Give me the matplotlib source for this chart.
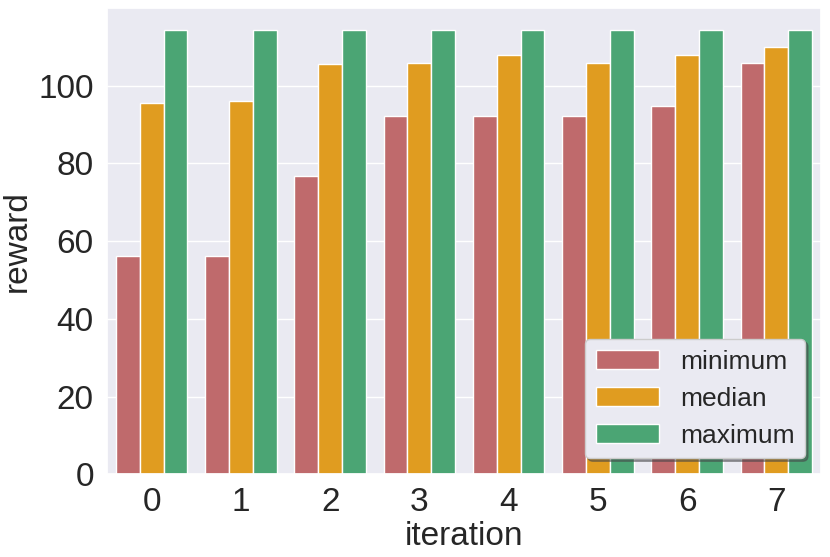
import numpy as np
import matplotlib
matplotlib.use("Agg")
import matplotlib.pyplot as plt
import seaborn as sns

iterations = [0, 1, 2, 3, 4, 5, 6, 7]
minimum = [56.1, 56.1, 76.8, 92.3, 92.3, 92.3, 94.8, 105.8]
median = [95.5, 96.1, 105.7, 105.9, 107.9, 105.8, 107.9, 110.0]
maximum = [114.2, 114.2, 114.2, 114.2, 114.2, 114.2, 114.2, 114.2]
series_names = ["minimum", "median", "maximum"]
colors = ["#BF6A6C", "#E09C20", "#4BA574"]

sns.set_theme(style="darkgrid", font_scale=2)
plt.rcParams['font.family'] = ['Liberation Sans', 'DejaVu Sans']

fig = plt.figure(figsize=(8.3, 5.57), dpi=100)
ax = fig.add_axes([107 / 830, 1 - 474.3 / 557, (821 - 107) / 830, (474.3 - 8.3) / 557])

x = np.arange(len(iterations))
width = 0.8 / 3
for i, (name, vals) in enumerate(zip(series_names, [minimum, median, maximum])):
    ax.bar(x + (i - 1) * width, vals, width, color=colors[i], label=name,
           edgecolor="white", linewidth=1)

ax.set_xlim(-0.5, len(iterations) - 0.5)
ax.set_ylim(0, max(maximum) * 1.05)
ax.xaxis.grid(False)
ax.set_xticks(x)
ax.set_xticklabels([str(v) for v in iterations], fontsize=24)
ax.tick_params(axis='y', labelsize=24)
ax.set_xlabel("iteration", fontsize=24, labelpad=2)
ax.set_ylabel("reward", fontsize=24)
ax.legend(loc="lower right", shadow=True, fontsize=19, handlelength=2.4,
          borderaxespad=0.6)

fig.savefig("out.png", dpi=100)
